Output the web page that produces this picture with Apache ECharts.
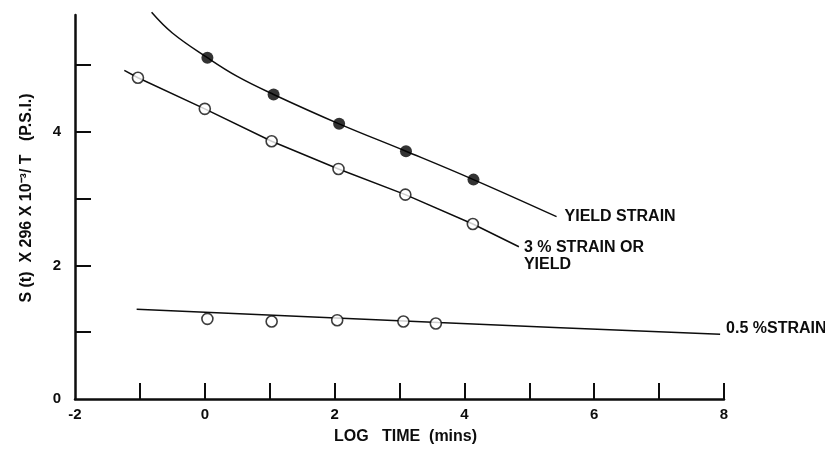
<!DOCTYPE html>
<html>
<head>
<meta charset="utf-8">
<script src="https://cdn.jsdelivr.net/npm/echarts@6/dist/echarts.min.js"></script>
<style>html,body{margin:0;padding:0;background:#fff}#c{width:825px;height:454px}</style>
</head>
<body>
<div id="c"></div>
<script>
// ---- data ----
const xTickValues = [-1, 0, 1, 2, 3, 4, 5, 6, 7, 8];
const xLabelValues = [-2, 0, 2, 4, 6, 8];
const yTickValues = [1, 2, 3, 4, 5];
const yLabelValues = [0, 2, 4];

const yieldCurveX = [-0.82, -0.5, 0.04, 0.5, 1.06, 2.07, 3.10, 4.14, 5.42];
const yieldCurveY = [5.79, 5.48, 5.11, 4.83, 4.56, 4.12, 3.71, 3.285, 2.73];
const yieldPtsX = [0.04, 1.06, 2.07, 3.10, 4.14];
const yieldPtsY = [5.11, 4.56, 4.12, 3.71, 3.285];

const strain3LineX = [-1.24, -1.03, 0.0, 1.03, 2.06, 3.09, 4.13, 4.84];
const strain3LineY = [4.92, 4.81, 4.345, 3.86, 3.445, 3.06, 2.62, 2.28];
const strain3PtsX = [-1.03, 0.0, 1.03, 2.06, 3.09, 4.13];
const strain3PtsY = [4.81, 4.345, 3.86, 3.445, 3.06, 2.62];

const strain05LineX = [-1.05, 3.6, 7.94];
const strain05LineY = [1.345, 1.145, 0.97];
const strain05PtsX = [0.04, 1.03, 2.04, 3.06, 3.56];
const strain05PtsY = [1.20, 1.16, 1.18, 1.16, 1.13];

const labelYield = 'YIELD STRAIN';
const label3 = '3 % STRAIN OR\nYIELD';
const label05 = '0.5 %STRAIN';
const xName = 'LOG   TIME  (mins)';
const yName = 'S (t)  X 296 X 10\u207B\u00B3/ T   (P.S.I.)';

const zip = (xs, ys) => xs.map((x, i) => [x, ys[i]]);
const INK = '#0d0d0d';
const FONT = 'Liberation Sans';

const chart = echarts.init(document.getElementById('c'), null, {renderer: 'canvas'});

const lineBase = {
  type: 'line', showSymbol: false, symbol: 'none', silent: true,
  lineStyle: {color: INK, width: 1.5}, z: 2, animation: false
};
const endLbl = (text, offset) => ({
  show: true, formatter: text, color: INK, fontFamily: FONT, fontWeight: 'bold',
  fontSize: 16, lineHeight: 17, offset: offset, distance: 6
});

chart.setOption({
  animation: false,
  backgroundColor: '#fff',
  grid: {left: 75, right: 101, top: 15, bottom: 55, containLabel: false, outerBoundsMode: 'none'},
  xAxis: {
    type: 'value', min: -2, max: 8, interval: 1,
    name: xName, nameLocation: 'middle', nameGap: 30,
    nameTextStyle: {color: INK, fontFamily: FONT, fontWeight: 'bold', fontSize: 16, padding: [0, 0, 0, 12]},
    axisLine: {show: true, onZero: false, lineStyle: {color: INK, width: 2.5}},
    axisTick: {show: true, inside: true, length: 16, lineStyle: {color: INK, width: 2}, customValues: xTickValues},
    axisLabel: {color: INK, fontFamily: FONT, fontWeight: 'bold', fontSize: 15, margin: 8, customValues: xLabelValues},
    splitLine: {show: false}
  },
  yAxis: {
    type: 'value', min: 0, max: 5.75, interval: 1,
    name: yName, nameLocation: 'middle', nameGap: 40, nameRotate: 90,
    nameTextStyle: {color: INK, fontFamily: FONT, fontWeight: 'bold', fontSize: 16, padding: [0, 0, 0, 18]},
    axisLine: {show: true, onZero: false, lineStyle: {color: INK, width: 2.5}},
    axisTick: {show: true, inside: true, length: 16, lineStyle: {color: INK, width: 2}, customValues: yTickValues},
    axisLabel: {color: INK, fontFamily: FONT, fontWeight: 'bold', fontSize: 15, margin: 14, customValues: yLabelValues},
    splitLine: {show: false}
  },
  series: [
    Object.assign({}, lineBase, {name: labelYield, smooth: 0.4, clip: false,
      data: zip(yieldCurveX, yieldCurveY), endLabel: endLbl(labelYield, [2, 0])}),
    Object.assign({}, lineBase, {name: '3%', smooth: false, data: zip(strain3LineX, strain3LineY),
      endLabel: endLbl(label3, [-1, 9])}),
    Object.assign({}, lineBase, {name: '0.5%', smooth: 0.3, data: zip(strain05LineX, strain05LineY),
      endLabel: endLbl(label05, [0, -6])}),
    {type: 'scatter', data: zip(yieldPtsX, yieldPtsY), symbol: 'circle', symbolSize: 12, z: 5,
      itemStyle: {color: '#000', borderColor: '#000', borderWidth: 0}, silent: true},
    {type: 'scatter', data: zip(strain3PtsX, strain3PtsY), symbol: 'circle', symbolSize: 11, z: 5,
      itemStyle: {color: '#fff', borderColor: INK, borderWidth: 1.6}, silent: true},
    {type: 'scatter', data: zip(strain05PtsX, strain05PtsY), symbol: 'circle', symbolSize: 11, z: 5,
      itemStyle: {color: '#fff', borderColor: INK, borderWidth: 1.6}, silent: true}
  ]
});
</script>
</body>
</html>
